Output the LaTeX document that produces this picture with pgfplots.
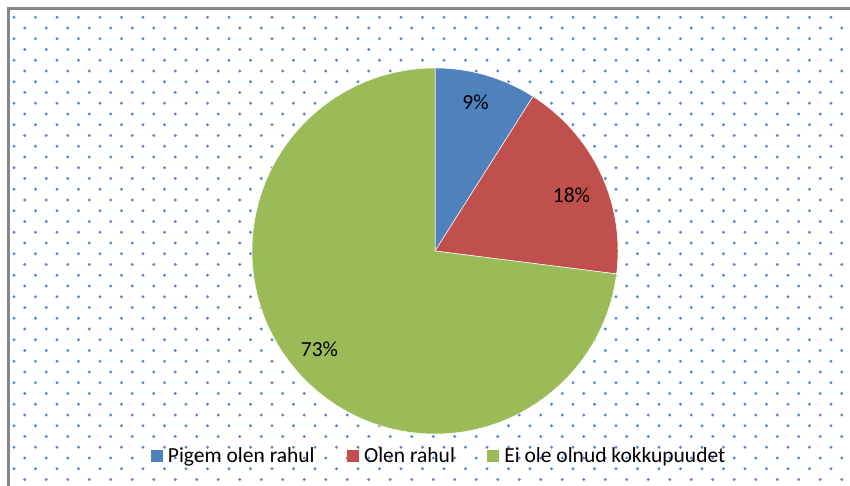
\documentclass[border=0pt]{standalone}
\usepackage{pgfplots}
\pgfplotsset{compat=1.18}
\usepackage{pgfplotstable}
\usepackage{fontspec}
\setmainfont{Carlito}
\definecolor{c1}{RGB}{79,129,189}
\definecolor{c2}{RGB}{192,80,77}
\definecolor{c3}{RGB}{155,187,89}
\definecolor{dotc}{RGB}{88,136,200}
\definecolor{framec}{RGB}{134,134,134}

\pgfplotstableread{
idx value
0 9
1 18
2 73
}\piedata

\begin{document}
\pgfplotstablegetelem{0}{value}\of\piedata\let\va\pgfplotsretval
\pgfplotstablegetelem{1}{value}\of\piedata\let\vb\pgfplotsretval
\pgfplotstablegetelem{2}{value}\of\piedata\let\vc\pgfplotsretval
\begin{tikzpicture}[x=1bp,y=1bp,font=\fontsize{21.5bp}{26bp}\selectfont]
\useasboundingbox (0,0) rectangle (850,486);
\begin{scope}
\clip (0,0) rectangle (850,486);
\foreach \r in {0,...,43}{
  \foreach \c in {0,...,39}{
    \fill[dotc] ({14+21.5*\c+10.75*mod(\r,2)},{486-17.3-10.75*\r}) circle (1.6bp);
  }
}
\draw[framec, line width=2.5bp] (8.7,-20) -- (8.7,486-8.7) -- (880,486-8.7);
\end{scope}
\begin{axis}[
  at={(0,0)}, anchor=south west,
  width=850bp, height=486bp, scale only axis,
  xmin=0, xmax=850, ymin=0, ymax=486,
  hide axis, clip=false,
  legend columns=3,
  legend image code/.code={\fill[#1] (0bp,-5.5bp) rectangle (11bp,5.5bp); \path (15bp,0bp);},
  legend style={draw=none, fill=none,
    font=\fontsize{21.5bp}{26bp}\selectfont,
    at={(439/850,30/486)}, anchor=center,
    nodes={inner sep=2bp},
    /tikz/every even column/.append style={column sep=30bp}},
]
\addlegendimage{c1}
\addlegendentry{Pigem olen rahul}
\addlegendimage{c2}
\addlegendentry{Olen rahul}
\addlegendimage{c3}
\addlegendentry{Ei ole olnud kokkupuudet}
\fill[c1, draw=white, line width=0.5bp] (axis cs:435,235) -- ++(90:183bp) arc[start angle=90, end angle={90-3.6*\va}, radius=183bp] -- cycle;
\fill[c2, draw=white, line width=0.5bp] (axis cs:435,235) -- ++({90-3.6*\va}:183bp) arc[start angle={90-3.6*\va}, end angle={90-3.6*(\va+\vb)}, radius=183bp] -- cycle;
\fill[c3, draw=white, line width=0.5bp] (axis cs:435,235) -- ++({90-3.6*(\va+\vb)}:183bp) arc[start angle={90-3.6*(\va+\vb)}, end angle={90-3.6*(\va+\vb+\vc)}, radius=183bp] -- cycle;
\node[anchor=base] at (axis cs:475.5,376) {\va\%};
\node[anchor=base] at (axis cs:571.5,283) {\vb\%};
\node[anchor=base] at (axis cs:319.5,129) {\vc\%};
\end{axis}
\end{tikzpicture}
\end{document}
